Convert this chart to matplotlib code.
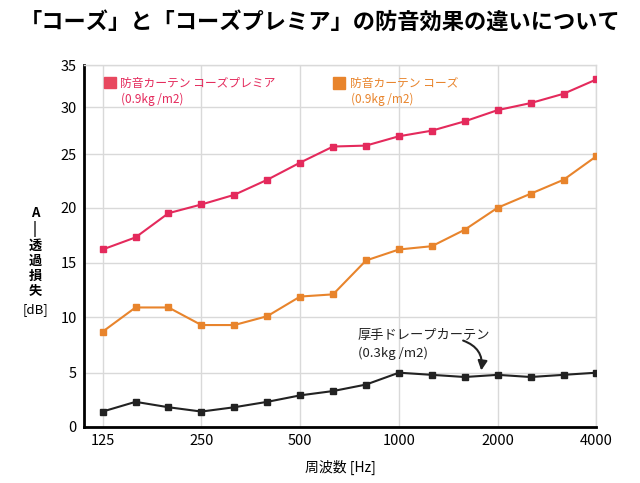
import numpy as np
import matplotlib

matplotlib.use("Agg")
import matplotlib.pyplot as plt
from matplotlib.patches import Rectangle

plt.rcParams["font.family"] = ["Noto Sans CJK JP", "DejaVu Sans"]

# 1/3 octave bands
freqs = [125, 160, 200, 250, 315, 400, 500, 630, 800,
         1000, 1250, 1600, 2000, 2500, 3150, 4000]
tick_labels = ["125", "250", "500", "1000", "2000", "4000"]

premier = [16.2, 17.3, 19.5, 20.3, 21.2, 22.6, 24.2, 25.8, 25.9,
           26.9, 27.5, 28.5, 29.7, 30.5, 31.6, 33.3]
coze = [8.7, 10.9, 10.9, 9.3, 9.3, 10.1, 11.9, 12.1, 15.2,
        16.2, 16.5, 18.0, 20.0, 21.3, 22.6, 24.8]
drape = [1.4, 2.3, 1.8, 1.4, 1.8, 2.3, 2.9, 3.3, 3.9,
         5.0, 4.8, 4.6, 4.8, 4.6, 4.8, 5.0]

# the source chart's y axis is not evenly spaced; these knots reproduce it
y_knots = [-5, 0, 5, 10, 15, 20, 25, 30, 35, 40]
y_px = [-54, 0, 54, 109.4, 164, 219, 272.7, 319.4, 361.7, 404]

PINK = "#e42a5c"
PINK_SW = "#e8485f"
ORANGE = "#e8842c"
BLACK = "#222222"
GRID = "#d9d9d9"


def fwd(v):
    return np.interp(v, y_knots, y_px)


def inv(p):
    return np.interp(p, y_px, y_knots)


fig = plt.figure(figsize=(6.4, 4.83), dpi=100)
ax = fig.add_axes([0.131, 0.1166, 0.801, 0.7488])
ax.set_yscale("function", functions=(fwd, inv))

x = np.arange(len(freqs))
ax.plot(x, premier, color=PINK, lw=1.5, marker="s", ms=4, zorder=3)
ax.plot(x, coze, color=ORANGE, lw=1.5, marker="s", ms=4, zorder=3)
ax.plot(x, drape, color=BLACK, lw=1.5, marker="s", ms=4, zorder=3)

ax.set_xlim(-0.57, len(freqs) - 1)
ax.set_ylim(0, 35)
ax.set_xticks([freqs.index(int(t)) for t in tick_labels])
ax.set_xticklabels(tick_labels)
ax.set_yticks(range(0, 36, 5))
ax.tick_params(length=0, labelsize=10.5, pad=5)
ax.grid(True, color=GRID, lw=1)
ax.set_axisbelow(True)

for side in ("left", "bottom"):
    ax.spines[side].set_linewidth(2)
    ax.spines[side].set_color("black")
for side in ("top", "right"):
    ax.spines[side].set_color(GRID)
    ax.spines[side].set_linewidth(1)

ax.set_xlabel("周波数 [Hz]", fontsize=10, labelpad=9)

# vertical y label
fig.text(35 / 640, 1 - 252 / 483, "A\n|\n透\n過\n損\n失", ha="center", va="center",
         fontsize=9.5, fontweight="bold", linespacing=1.1)
fig.text(35 / 640, 1 - 310 / 483, "[dB]", ha="center", va="center", fontsize=9.5)

fig.text(0.5, 0.954, "「コーズ」と「コーズプレミア」の防音効果の違いについて",
         ha="center", va="center", fontsize=16, fontweight="bold")

# legend swatches and labels
ax.add_patch(Rectangle((0.0396, 0.9364), 0.0222, 0.0296, transform=ax.transAxes,
                       color=PINK_SW, clip_on=False))
ax.text(0.070, 0.950, "防音カーテン コーズプレミア", transform=ax.transAxes,
        color=PINK, fontsize=8.5, va="center")
ax.text(0.0734, 0.906, "(0.9kg /m2)", transform=ax.transAxes,
        color=PINK, fontsize=8.5, va="center")

ax.add_patch(Rectangle((0.4863, 0.9336), 0.0228, 0.0325, transform=ax.transAxes,
                       color=ORANGE, clip_on=False))
ax.text(0.520, 0.949, "防音カーテン コーズ", transform=ax.transAxes,
        color=ORANGE, fontsize=8.5, va="center")
ax.text(0.522, 0.905, "(0.9kg /m2)", transform=ax.transAxes,
        color=ORANGE, fontsize=8.5, va="center")

ax.text(0.5345, 0.2535, "厚手ドレープカーテン", transform=ax.transAxes,
        color=BLACK, fontsize=9.5, va="center")
ax.text(0.5345, 0.2038, "(0.3kg /m2)", transform=ax.transAxes,
        color=BLACK, fontsize=9.5, va="center")
ax.annotate("", xy=(11.5, 5.2), xytext=(10.95, 7.9),
            arrowprops=dict(arrowstyle="-|>", color=BLACK, lw=1.5,
                            mutation_scale=14, shrinkA=0, shrinkB=0,
                            connectionstyle="arc3,rad=-0.4"))

fig.savefig("out.png", dpi=100)
